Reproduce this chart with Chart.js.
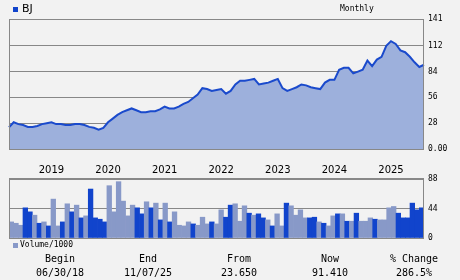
<!DOCTYPE html>
<html>
<head>
<meta charset="utf-8">
<script src="https://cdn.jsdelivr.net/npm/chart.js@4.4.1/dist/chart.umd.min.js"></script>
<style>
  body { margin:0; background:#f2f2f2; width:460px; height:280px; overflow:hidden; position:relative; }
  canvas { position:absolute; left:0; top:0; }
  .txt { position:absolute; white-space:nowrap; color:#000; font-family:"DejaVu Sans Mono", monospace; }
  .cell { position:absolute; width:90px; text-align:center; white-space:nowrap; color:#000;
          font-family:"DejaVu Sans Mono", monospace; font-size:10px; line-height:12px; }
  .sq { position:absolute; }
</style>
</head>
<body>
<canvas id="chart" width="460" height="250"></canvas>

<div class="sq" style="left:13px;top:7px;width:5px;height:5px;background:#1144cc"></div>
<div class="txt" style="left:22px;top:2px;font:11px 'DejaVu Sans';line-height:14px">BJ</div>
<div class="txt" style="left:340px;top:3px;font-size:8px;line-height:12px">Monthly</div>

<div class="sq" style="left:13px;top:243px;width:5px;height:5px;background:#8899c8"></div>
<div class="txt" style="left:20px;top:239px;font-size:8px;line-height:12px">Volume/1000</div>

<div id="statsBox"></div>

<script>
// ---------------- DATA ----------------
const months = [
  "2018-07","2018-08","2018-09","2018-10","2018-11","2018-12",
  "2019-01","2019-02","2019-03","2019-04","2019-05","2019-06","2019-07","2019-08","2019-09","2019-10","2019-11","2019-12",
  "2020-01","2020-02","2020-03","2020-04","2020-05","2020-06","2020-07","2020-08","2020-09","2020-10","2020-11","2020-12",
  "2021-01","2021-02","2021-03","2021-04","2021-05","2021-06","2021-07","2021-08","2021-09","2021-10","2021-11","2021-12",
  "2022-01","2022-02","2022-03","2022-04","2022-05","2022-06","2022-07","2022-08","2022-09","2022-10","2022-11","2022-12",
  "2023-01","2023-02","2023-03","2023-04","2023-05","2023-06","2023-07","2023-08","2023-09","2023-10","2023-11","2023-12",
  "2024-01","2024-02","2024-03","2024-04","2024-05","2024-06","2024-07","2024-08","2024-09","2024-10","2024-11","2024-12",
  "2025-01","2025-02","2025-03","2025-04","2025-05","2025-06","2025-07","2025-08","2025-09","2025-10","2025-11"
];

const prices = [
  23.65,29,27,26,24,24,25,27,28,29,
  27,27,26,26,27,27,26,24,23,21,
  23,29,33,37,40,42,44,42,40,40,
  41,41,43,46,44,44,46,49,51,55,
  59,66,65,63,64,65,60,63,70,74,
  74,75,76,70,71,72,74,76,66,63,
  65,67,70,69,67,66,65,72,75,75,
  86,88,88,82,84,86,96,90,97,100,
  112,117,114,107,105,100,94,89,91.41
];

// volume in thousands
const volume = [
  24,22,19,45,39,34,22,24,18,58,
  18,24,51,39,49,30,33,73,30,28,
  24,78,39,84,55,33,49,45,36,54,
  45,52,27,52,24,39,19,18,24,21,
  19,31,21,24,21,42,31,49,51,25,
  48,37,34,36,30,27,18,36,18,52,
  48,34,42,30,30,31,24,22,18,33,
  36,36,25,25,37,25,25,30,28,27,
  27,45,47,37,30,30,52,42,45
];

// 1 = up month (dark bar), 0 = down month (light bar)
const volUp = [
  0,0,0,1,1,0,1,0,1,0,
  0,1,0,1,0,1,0,1,1,1,
  1,0,0,0,0,0,0,1,1,0,
  1,0,1,0,1,0,0,0,0,1,
  0,0,0,1,0,0,1,1,0,0,
  0,1,0,1,1,0,1,0,0,1,
  0,0,0,0,1,1,0,1,0,0,
  1,0,1,0,1,0,0,0,1,0,
  0,0,0,1,1,1,1,1,1
];

const priceTicks = [0, 28, 56, 84, 112, 141];
const volTicks = [0, 44, 88];

const statLabels = ["Begin", "End", "From", "Now", "% Change"];
const statValues = ["06/30/18", "11/07/25", "23.650", "91.410", "286.5%"];

// ---------------- STYLE ----------------
const DARK = "#1144cc";
const LIGHT = "#8899c8";
const GRID = "#888888";
const statCenters = [60, 148, 239, 330, 414];
// both panels share one plot area (y 19..238); axis ranges stretched so
// price sits in 19..149 and volume in 179..238
const PRICE_MIN = -96.5, PRICE_MAX = 141;
const VOL_MIN = 0, VOL_MAX = 326.6;
const AXIS_W = 36;

const framePlugin = {
  id: "frame",
  // volume axis has zero width in the layout (so it sits on top of the price axis);
  // widen its box afterwards so its labels are not clipped
  afterLayout(chart) {
    const yv = chart.scales.yv;
    yv.right = yv.left + AXIS_W;
    yv.width = AXIS_W;
  },
  // frame round each panel, from the scales
  afterDatasetsDraw(chart) {
    const a = chart.chartArea;
    const y = chart.scales.y, yv = chart.scales.yv;
    const ctx = chart.ctx;
    const panels = [
      [y.getPixelForValue(priceTicks[priceTicks.length - 1]), y.getPixelForValue(0)],
      [yv.getPixelForValue(volTicks[volTicks.length - 1]), yv.getPixelForValue(0)]
    ];
    ctx.save();
    ctx.strokeStyle = GRID;
    ctx.lineWidth = 1;
    panels.forEach(p => {
      const t = Math.round(p[0]), b = Math.round(p[1]);
      ctx.strokeRect(Math.round(a.left) + 0.5, t + 0.5, Math.round(a.right - a.left) - 1, b - t);
    });
    ctx.restore();
  }
};

new Chart(document.getElementById("chart"), {
  type: "line",
  data: {
    labels: months,
    datasets: [
      {
        type: "line",
        data: prices,
        xAxisID: "x",
        yAxisID: "y",
        borderColor: "#1a4acc",
        borderWidth: 2,
        backgroundColor: "#9db0dc",
        fill: "origin",
        pointRadius: 0,
        tension: 0
      },
      {
        type: "bar",
        data: volume,
        xAxisID: "xv",
        yAxisID: "yv",
        backgroundColor: volUp.map(u => u ? DARK : LIGHT),
        borderWidth: 0,
        grouped: false,
        categoryPercentage: 1,
        barPercentage: 1
      }
    ]
  },
  options: {
    responsive: false,
    animation: false,
    events: [],
    layout: { padding: { left: 9, top: 19, right: 0, bottom: 12 } },
    plugins: { legend: { display: false }, tooltip: { enabled: false } },
    scales: {
      x: {
        type: "category",
        position: { y: 0 },
        offset: false,
        grid: { display: false, drawTicks: false },
        border: { display: false },
        ticks: {
          autoSkip: false, maxRotation: 0, minRotation: 0, padding: 15,
          color: "#000", font: { family: "DejaVu Sans", size: 10 },
          callback: (v, i) => months[i].endsWith("-04") ? months[i].slice(0, 4) : ""
        },
        afterFit: s => { s.paddingLeft = 0; s.paddingRight = 0; }
      },
      xv: {
        type: "category",
        position: "bottom",
        offset: true,
        display: false
      },
      y: {
        type: "linear",
        position: "right",
        weight: 1,
        min: PRICE_MIN, max: PRICE_MAX,
        grid: { color: GRID, drawTicks: false },
        border: { display: false },
        afterBuildTicks: s => { s.ticks = priceTicks.map(v => ({ value: v })); },
        ticks: {
          padding: 4, color: "#000", font: { family: "DejaVu Sans Mono", size: 8 },
          callback: v => v === 0 ? "0.00" : String(v)
        },
        afterFit: s => { s.width = AXIS_W; s.paddingTop = 0; s.paddingBottom = 0; }
      },
      yv: {
        type: "linear",
        position: "right",
        weight: 0,
        min: VOL_MIN, max: VOL_MAX,
        grid: { color: GRID, drawTicks: false },
        border: { display: false },
        afterBuildTicks: s => { s.ticks = volTicks.map(v => ({ value: v })); },
        ticks: { padding: 4, color: "#000", font: { family: "DejaVu Sans Mono", size: 8 } },
        afterFit: s => { s.width = 0; s.paddingTop = 0; s.paddingBottom = 0; }
      }
    }
  },
  plugins: [framePlugin]
});

// ---------------- STATS ROWS ----------------
const box = document.getElementById("statsBox");
statLabels.forEach((lab, i) => {
  const a = document.createElement("div");
  a.className = "cell";
  a.style.left = (statCenters[i] - 45) + "px";
  a.style.top = "253px";
  a.textContent = lab;
  box.appendChild(a);
  const b = document.createElement("div");
  b.className = "cell";
  b.style.left = (statCenters[i] - 45) + "px";
  b.style.top = "267px";
  b.textContent = statValues[i];
  box.appendChild(b);
});
</script>
</body>
</html>
